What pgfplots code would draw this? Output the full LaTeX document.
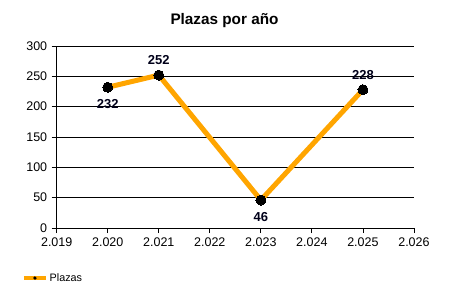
\documentclass[border=0pt]{standalone}
\usepackage{pgfplots}
\pgfplotsset{compat=1.18}
\usepackage{fontspec}
\setmainfont{Liberation Sans}
\definecolor{lineor}{RGB}{255,165,0}
\begin{document}
\begin{tikzpicture}[x=1bp,y=1bp]
\path[use as bounding box] (0,0) rectangle (450,300);
\node[font=\fontsize{15.3bp}{18bp}\selectfont\bfseries, anchor=base] at (224.5,276) {Plazas por año};
\begin{axis}[
  at={(56.7bp,72bp)}, anchor=south west,
  scale only axis, width=357.3bp, height=182bp,
  xmin=2019, xmax=2026, ymin=0, ymax=300,
  xtick={2019,...,2026},
  xticklabels={2.019,2.020,2.021,2.022,2.023,2.024,2.025,2.026},
  ytick={0,50,...,300},
  axis x line*=bottom, axis y line*=left,
  ymajorgrids, grid style={black, line width=0.8bp},
  axis line style={black, line width=0.8bp},
  tick style={black, line width=0.8bp},
  tick align=outside, major tick length=5bp,
  ticklabel style={font=\fontsize{12.5bp}{14bp}\selectfont},
  /pgf/number format/assume math mode=true,
  xticklabel style={yshift=-1bp},
  yticklabel style={xshift=-1bp},
  clip=false,
  legend style={at={(-34.7bp,-50bp)}, anchor=west, draw=none, fill=none,
    font=\fontsize{10.8bp}{12bp}\selectfont, inner sep=0pt},
  legend image code/.code={
    \draw[lineor, line width=3.5bp, mark=none] (0bp,0bp) -- (22bp,0bp);
    \fill[black, draw=none] (11bp,0bp) circle[radius=1.8bp];
  },
]
\addplot[lineor, line width=5bp, mark=*, mark size=5bp,
  mark options={fill=black, draw=black, line width=0pt}]
  coordinates {(2020,232) (2021,252) (2023,46) (2025,228)};
\addlegendentry{Plazas}
\addplot[draw=none, mark=none, forget plot, nodes near coords,
  every node near coord/.append style={anchor=center, yshift=-17bp,
    font=\fontsize{13bp}{14bp}\selectfont\bfseries, text=black!90!blue}]
  coordinates {(2020,232) (2023,46)};
\addplot[draw=none, mark=none, forget plot, nodes near coords,
  every node near coord/.append style={anchor=center, yshift=15bp,
    font=\fontsize{13bp}{14bp}\selectfont\bfseries, text=black!90!blue}]
  coordinates {(2021,252) (2025,228)};
\end{axis}
\end{tikzpicture}
\end{document}
